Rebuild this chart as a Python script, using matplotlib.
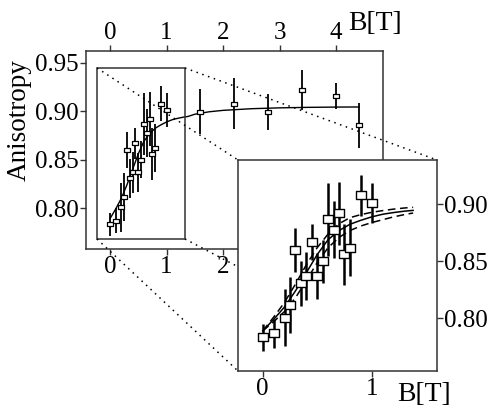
import matplotlib
matplotlib.use("Agg")
import matplotlib.pyplot as plt
import numpy as np
from matplotlib.patches import Rectangle
from matplotlib.lines import Line2D
from matplotlib import font_manager as fm
from matplotlib.path import Path

names = sorted({f.name for f in fm.fontManager.ttflist})
serif = None
for cand in ['Liberation Serif', 'Times New Roman', 'Nimbus Roman', 'DejaVu Serif']:
    if cand in names:
        serif = cand
        break
plt.rcParams['font.family'] = [serif, 'DejaVu Serif']

# ---- data ----
b_low = [0.0, 0.1, 0.2, 0.25, 0.3, 0.35, 0.4, 0.45, 0.5, 0.55, 0.6, 0.65, 0.7, 0.75, 0.8, 0.9, 1.0]
a_low = [0.7833, 0.7868, 0.8006, 0.8117, 0.860, 0.8307, 0.837, 0.867, 0.837, 0.850,
         0.887, 0.8775, 0.892, 0.856, 0.862, 0.908, 0.9015]
e_low = [0.012, 0.013, 0.025, 0.025, 0.019, 0.020, 0.021, 0.016, 0.020, 0.019,
         0.032, 0.025, 0.028, 0.027, 0.025, 0.018, 0.0175]

b_high = [1.6, 2.2, 2.8, 3.4, 4.0, 4.4]
a_high = [0.8997, 0.908, 0.8994, 0.922, 0.9156, 0.8855]
e_high = [0.023, 0.026, 0.019, 0.0205, 0.0135, 0.0235]

fit_b = [0.0, 0.1, 0.2, 0.3, 0.4, 0.5, 0.6, 0.7, 0.8, 0.9, 1.0, 1.1, 1.2, 1.3, 1.38,
         1.5, 1.75, 2.0, 2.5, 3.0, 3.5, 4.0, 4.41]
fit_a = [0.789, 0.799, 0.810, 0.824, 0.840, 0.856, 0.869, 0.877, 0.8825, 0.886, 0.889,
         0.8913, 0.8928, 0.894, 0.8947, 0.897, 0.8995, 0.901, 0.9027, 0.9036, 0.9041,
         0.9044, 0.9045]

band_b = [0.0, 0.1, 0.2, 0.3, 0.4, 0.5, 0.6, 0.7, 0.8, 0.9, 1.0, 1.1, 1.2, 1.3, 1.38]
band_up = [0.789, 0.801, 0.814, 0.830, 0.847, 0.862, 0.874, 0.883, 0.8883, 0.891,
           0.893, 0.8945, 0.8958, 0.8968, 0.8974]
band_lo = [0.789, 0.797, 0.806, 0.818, 0.833, 0.849, 0.862, 0.871, 0.877, 0.881,
           0.884, 0.8865, 0.889, 0.891, 0.8924]

main_xticks = [0, 1, 2, 3, 4]
main_yticks = [0.80, 0.85, 0.90, 0.95]
main_yticklabels = ['0.80', '0.85', '0.90', '0.95']
inset_xticks = [0, 1]
inset_yticks = [0.80, 0.85, 0.90]
inset_yticklabels = ['0.80', '0.85', '0.90']

# ---- figure ----
W, H = 489, 408
fig = plt.figure(figsize=(W / 100, H / 100), dpi=100)
FS = 18
spine_c = '#333333'

rect_marker = Path([(-1, -0.72), (1, -0.72), (1, 0.72), (-1, 0.72), (-1, -0.72)],
                   [Path.MOVETO, Path.LINETO, Path.LINETO, Path.LINETO, Path.CLOSEPOLY])

def fbox(l, t, r, b):
    return [l / W, 1 - b / H, (r - l) / W, (b - t) / H]

def fx(px):
    return px / W

def fy(py):
    return 1 - py / H

ax = fig.add_axes(fbox(86, 51, 383, 249))
ax.set_zorder(1)
ax.set_xlim(-0.425, 4.83)
ax.set_ylim(0.7576, 0.9624)

all_b = b_low + b_high
all_a = a_low + a_high
all_e = e_low + e_high
ax.errorbar(all_b, all_a, yerr=all_e, fmt='none', ecolor='black', elinewidth=1.3,
            capsize=0, zorder=3)
ax.plot(all_b, all_a, ls='none', marker=rect_marker, ms=4.2, mfc='white', mec='black',
        mew=0.9, zorder=4)
ax.plot(fit_b, fit_a, color='black', lw=1.0, zorder=2)
ax.add_patch(Rectangle((-0.23, 0.768), 1.557, 0.1768, fill=False,
                       edgecolor=spine_c, lw=1.1, zorder=5))

ax.set_xticks(main_xticks)
ax.set_xticklabels([str(t) for t in main_xticks])
ax.set_yticks(main_yticks)
ax.set_yticklabels(main_yticklabels)
ax.tick_params(axis='x', top=True, labeltop=True, bottom=True, labelbottom=True,
               direction='out', length=4, width=1, pad=1, labelsize=FS, color=spine_c)
ax.tick_params(axis='y', left=True, right=False, direction='out', length=4, width=1,
               pad=1, labelsize=FS, color=spine_c)
for s in ax.spines.values():
    s.set_color(spine_c)
    s.set_linewidth(1.1)
fig.text(fx(19), fy(120), 'Anisotropy', fontsize=19.5, rotation=90,
         ha='center', va='center')

# inset
ins = fig.add_axes(fbox(238, 160, 437, 371))
ins.set_zorder(3)
ins.set_xlim(-0.227, 1.599)
ins.set_ylim(0.7538, 0.9389)
ins.errorbar(b_low, a_low, yerr=e_low, fmt='none', ecolor='black', elinewidth=1.8,
             capsize=0, zorder=3)
ins.plot(b_low, a_low, ls='none', marker=rect_marker, ms=7.5, mfc='white', mec='black',
         mew=1.0, zorder=4)
fb = np.array(fit_b)
fa = np.array(fit_a)
m = fb <= 1.38
ins.plot(fb[m], fa[m], color='black', lw=1.1, zorder=2)
ins.plot(band_b, band_up, color='black', lw=1.1, ls=(0, (5, 3)), zorder=2)
ins.plot(band_b, band_lo, color='black', lw=1.1, ls=(0, (5, 3)), zorder=2)
ins.set_xticks(inset_xticks)
ins.set_xticklabels([str(t) for t in inset_xticks])
ins.set_yticks(inset_yticks)
ins.set_yticklabels(inset_yticklabels)
ins.yaxis.tick_right()
ins.tick_params(axis='x', direction='out', length=4, width=1, pad=1, labelsize=FS,
                color=spine_c)
ins.tick_params(axis='y', direction='out', length=4, width=1, pad=1, labelsize=FS,
                color=spine_c)
for s in ins.spines.values():
    s.set_color(spine_c)
    s.set_linewidth(1.1)

# dotted connector lines (figure pixel coords)
conns = [((97, 68), (238, 160)), ((185, 68), (437, 160)),
         ((97, 239), (238, 371)), ((185, 239), (437, 371))]
for (x0, y0), (x1, y1) in conns:
    ln = Line2D([fx(x0), fx(x1)], [fy(y0), fy(y1)], transform=fig.transFigure,
                color='black', lw=1.1, ls=(0, (1, 3)), zorder=2)
    fig.add_artist(ln)

fig.text(fx(348), fy(24), 'B[T]', fontsize=20, ha='left', va='center')
fig.text(fx(397), fy(407), 'B[T]', fontsize=20, ha='left', va='bottom')

fig.savefig('out.png', dpi=100)
